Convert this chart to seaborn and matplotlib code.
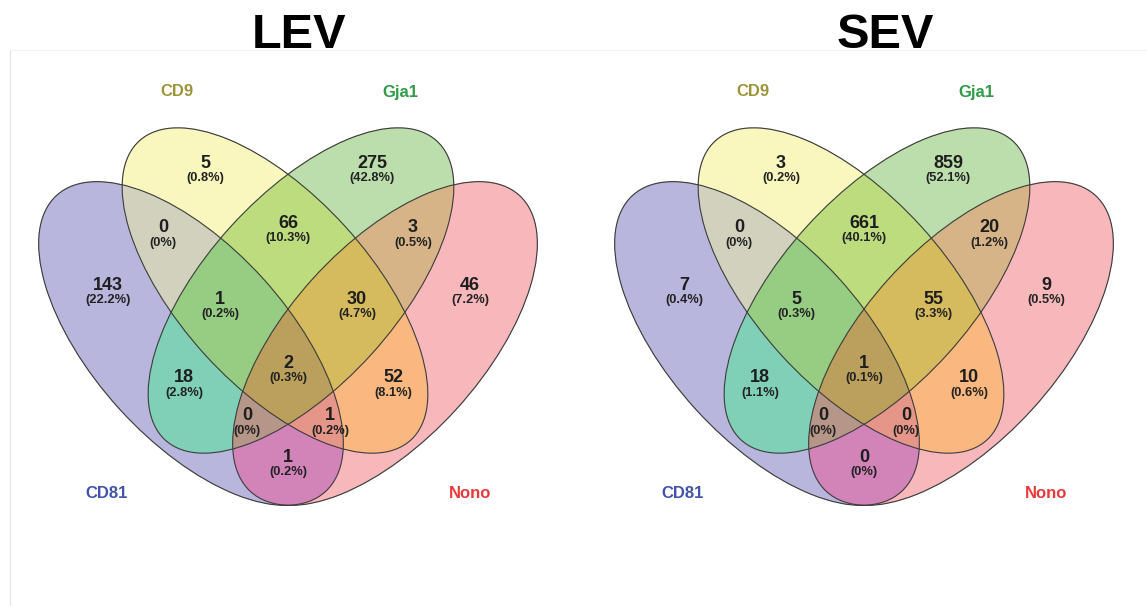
import numpy as np
import matplotlib
matplotlib.use("Agg")
import matplotlib.pyplot as plt
import seaborn as sns
from matplotlib.patches import Ellipse
from matplotlib.lines import Line2D

# --- data -----------------------------------------------------------------
set_names = ["CD81", "CD9", "Gja1", "Nono"]
set_label_colors = ["#4352ad", "#9c9438", "#2f9a47", "#e8393b"]
panel_titles = ["LEV", "SEV"]

# regions as membership of (CD81, CD9, Gja1, Nono)
region_members = [
    (0, 1, 0, 0), (0, 0, 1, 0), (1, 1, 0, 0), (0, 1, 1, 0), (0, 0, 1, 1),
    (1, 0, 0, 0), (1, 1, 1, 0), (0, 1, 1, 1), (0, 0, 0, 1), (1, 1, 1, 1),
    (1, 0, 1, 0), (0, 1, 0, 1), (1, 0, 1, 1), (1, 1, 0, 1), (1, 0, 0, 1),
]
lev_counts = [5, 275, 0, 66, 3, 143, 1, 30, 46, 2, 18, 52, 0, 1, 1]
sev_counts = [3, 859, 0, 661, 20, 7, 5, 55, 9, 1, 18, 10, 0, 0, 0]

# fill colour of each region, same order as region_members
region_colors = [
    (249, 247, 190), (187, 222, 172), (210, 210, 190), (190, 220, 125), (214, 181, 136),
    (184, 182, 220), (150, 205, 130), (214, 186, 95), (248, 183, 187), (186, 160, 92),
    (128, 208, 184), (250, 185, 128), (182, 150, 137), (230, 150, 138), (211, 131, 185),
]

# --- layout (pixel coordinates inside one 576 px wide panel, y downwards) ---
ellipses = [  # cx, cy, a, b, angle
    (191.0, 343.5, 200, 97, 47.8),
    (275.0, 290.5, 202, 95, 47.8),
    (301.0, 290.5, 202, 95, -47.8),
    (385.0, 343.5, 200, 97, -47.8),
]
label_pos = [
    (205, 170.5), (372, 170.5), (163, 235.5), (288, 230.5), (413, 235.5),
    (108, 292.5), (220, 306.5), (357, 306.5), (470, 292.5), (288, 370.5),
    (184, 385.5), (393, 385.5), (247, 423.5), (330, 423.5), (288, 464.5),
]
cat_pos = [(107, 493), (177, 92), (400, 92), (470, 493)]
title_x = [299, 309]

W, H = 1147, 606
PANEL_W = 576

sns.set_theme(style="white")
plt.rcParams["font.family"] = ["Liberation Sans", "DejaVu Sans"]

fig = plt.figure(figsize=(W / 100, H / 100), dpi=100)
fig.patch.set_facecolor("white")

# faint frame lines of the original screenshot
fig.add_artist(Line2D([10 / W, 10 / W], [0, 1 - 50 / H], color="#e2e2e2", lw=0.8))
fig.add_artist(Line2D([10 / W, 1], [1 - 50 / H, 1 - 50 / H], color="#f0f0f0", lw=0.6))


def inside(xx, yy, cx, cy, a, b, ang):
    t = np.deg2rad(ang)
    dx, dy = xx - cx, yy - cy
    u = dx * np.cos(t) + dy * np.sin(t)
    v = -dx * np.sin(t) + dy * np.cos(t)
    return (u / a) ** 2 + (v / b) ** 2 <= 1


# region colour raster (2x supersampled)
xs = (np.arange(PANEL_W * 2) + 0.5) / 2
ys = (np.arange(H * 2) + 0.5) / 2
XX, YY = np.meshgrid(xs, ys)
masks = [inside(XX, YY, *e) for e in ellipses]
rgba = np.zeros(XX.shape + (4,))
for members, col in zip(region_members, region_colors):
    m = np.ones_like(XX, dtype=bool)
    for flag, mk in zip(members, masks):
        m &= mk if flag else ~mk
    rgba[m, :3] = np.array(col) / 255
    rgba[m, 3] = 1.0

for i, (title, counts) in enumerate(zip(panel_titles, [lev_counts, sev_counts])):
    ax = fig.add_axes([i * PANEL_W / W, 0, PANEL_W / W, 1])
    ax.set_xlim(0, PANEL_W)
    ax.set_ylim(H, 0)
    ax.axis("off")

    ax.imshow(rgba, extent=(0, PANEL_W, H, 0), origin="upper",
              aspect="auto", interpolation="antialiased", zorder=1)
    for cx, cy, a, b, ang in ellipses:
        ax.add_patch(Ellipse((cx, cy), 2 * a, 2 * b, angle=ang, fill=False,
                             ec="#3c3c3c", lw=0.8, zorder=2))

    total = sum(counts)
    for (x, y), c in zip(label_pos, counts):
        pct = "0%" if c == 0 else f"{100 * c / total:.1f}%"
        ax.text(x, y - 7.5, str(c), ha="center", va="center", fontsize=13,
                fontweight="bold", color="#1e1e1e", zorder=3)
        ax.text(x, y + 7.5, f"({pct})", ha="center", va="center", fontsize=9.3,
                fontweight="bold", color="#222222", zorder=3)

    for name, col, (x, y) in zip(set_names, set_label_colors, cat_pos):
        ax.text(x, y, name, ha="center", va="center", fontsize=12,
                fontweight="bold", color=col, zorder=3)

    ax.text(title_x[i], 35, title, ha="center", va="center", fontsize=35,
            fontweight="bold", color="black")

fig.savefig("out.png", dpi=100, facecolor="white")
